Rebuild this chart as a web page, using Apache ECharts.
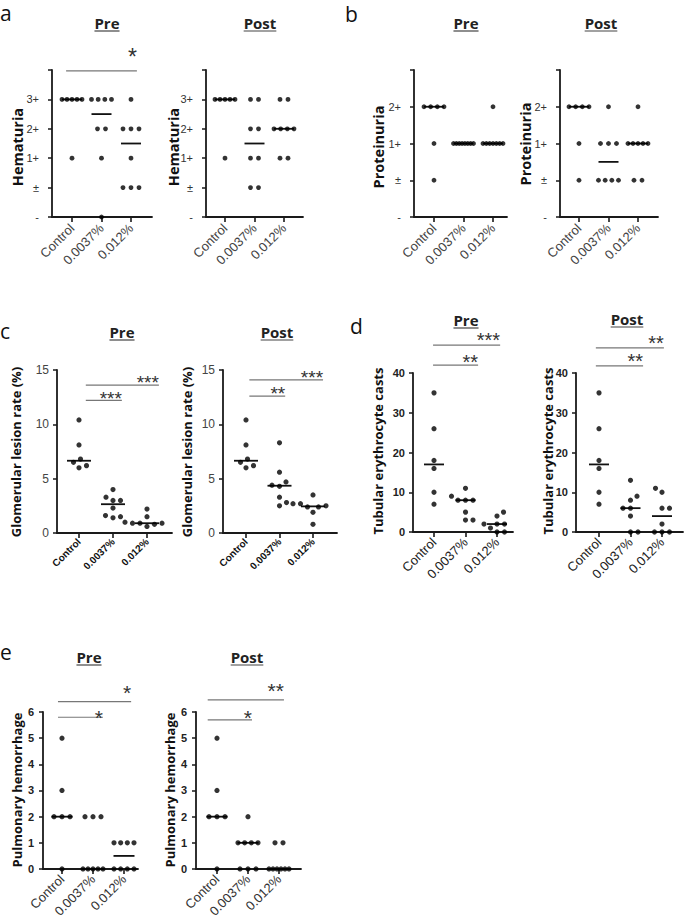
<!DOCTYPE html>
<html><head><meta charset="utf-8">
<script src="https://cdn.jsdelivr.net/npm/echarts@6/dist/echarts.min.js"></script>
<style>html,body{margin:0;padding:0;background:#fff}#c{width:685px;height:920px}</style>
</head><body><div id="c"></div>
<script>
// ---------------- DATA ----------------
const groups = ['Control', '0.0037%', '0.012%'];
const hemaLevels = ['-', '±', '1+', '2+', '3+'];
const protLevels = ['-', '±', '1+', '2+'];
const hemaTicks = ['-', '±', '1+', '2+', '3+', ''];
const protTicks = ['-', '±', '1+', '2+', ''];

const hematuriaPre = [
  ['3+','3+','3+','3+','3+','1+'],
  ['3+','3+','3+','3+','2+','2+','1+','-'],
  ['3+','2+','2+','2+','1+','±','±','±']
];
const hematuriaPost = [
  ['3+','3+','3+','3+','3+','1+'],
  ['3+','3+','2+','2+','1+','1+','±','±'],
  ['3+','3+','2+','2+','2+','2+','1+','1+']
];
const proteinuriaPre = [
  ['2+','2+','2+','2+','1+','±'],
  ['1+','1+','1+','1+','1+','1+','1+','1+'],
  ['2+','1+','1+','1+','1+','1+','1+','1+']
];
const proteinuriaPost = [
  ['2+','2+','2+','2+','1+','±'],
  ['2+','1+','1+','1+','±','±','±','±'],
  ['2+','1+','1+','1+','1+','1+','±','±']
];
const glomerularPre = [
  [10.4, 8.1, 6.8, 6.5, 6.0, 6.2],
  [4.0, 3.3, 3.0, 3.0, 2.3, 1.4, 1.6, 1.5],
  [2.2, 1.5, 1.0, 0.9, 0.9, 0.8, 0.9, 0.6]
];
const glomerularPost = [
  [10.4, 8.1, 6.8, 6.5, 6.0, 6.2],
  [8.3, 5.6, 4.7, 4.4, 4.3, 3.3, 2.8, 2.5],
  [3.5, 2.7, 2.7, 2.5, 2.4, 2.4, 1.9, 0.8]
];
const tubularPre = [
  [35, 26, 18, 16, 10, 7],
  [11, 9, 8, 8, 8, 5, 3, 3],
  [5, 4, 2, 2, 2, 1, 0, 0]
];
const tubularPost = [
  [35, 26, 18, 16, 10, 7],
  [13, 9, 8, 6, 6, 4, 0, 0],
  [11, 10, 6, 6, 2, 0, 0, 0]
];
const hemorrhagePre = [
  [5, 3, 2, 2, 2, 0],
  [2, 2, 2, 0, 0, 0, 0, 0],
  [1, 1, 1, 1, 0, 0, 0, 0]
];
const hemorrhagePost = [
  [5, 3, 2, 2, 2, 0],
  [2, 1, 1, 1, 1, 0, 0, 0],
  [1, 1, 0, 0, 0, 0, 0, 0]
];
// significance: [label, from group, to group, bar level]
const sigHemaPre = [['*', -0.2, 2.2, 4.97]];
const sigGlomPre = [['***', 0.2, 1.26, 12.2], ['***', 0.2, 2.35, 13.6]];
const sigGlomPost = [['**', 0.1, 1.17, 12.6], ['***', 0.1, 2.3, 14.1]];
const sigTubPre = [['**', -0.03, 1.4, 42], ['***', -0.03, 2.1, 47]];
const sigTubPost = [['**', -0.1, 1.4, 41.8], ['**', -0.1, 2.06, 46.3]];
const sigHemoPre = [['*', -0.13, 1.32, 5.8], ['*', -0.13, 2.23, 6.4]];
const sigHemoPost = [['*', -0.3, 1.13, 5.7], ['**', -0.3, 2.16, 6.46]];

// ---------------- LAYOUT / STYLE ----------------
const TICK_FONT = '"Liberation Sans", Arial, sans-serif';
const HEAD_FONT = '"Open Sans", "Noto Sans", sans-serif';
const styles = {
  ab: { y: {fontSize: 11, color: '#333', margin: 13}, x: {fontSize: 13, color: '#444', margin: 9} },
  c:  { y: {fontSize: 12, color: '#444', margin: 8}, x: {fontSize: 10, color: '#111', fontWeight: 'bold', margin: 7} },
  d:  { y: {fontSize: 11, color: '#222', fontWeight: 'bold', margin: 8}, x: {fontSize: 13, color: '#222', margin: 8} },
  e:  { y: {fontSize: 11, color: '#222', fontWeight: 'bold', margin: 9}, x: {fontSize: 13, color: '#333', margin: 8} }
};

const panels = [
  {data: hematuriaPre, levels: hemaLevels, yTicks: hemaTicks, yMax: 5, yInt: 1, sig: sigHemaPre,
   L: {x0: 52, x1: 152, t0: 72, t2: 131, top: 70, bot: 217}, dot: 4.8, st: 'ab', medHW: 10, nameFs: 14.5,
   title: 'Pre', tx: 107, ty: 23, yName: 'Hematuria', nx: 17, ny: 147, starFont: 23, starGap: [19]},
  {data: hematuriaPost, levels: hemaLevels, yTicks: hemaTicks, yMax: 5, yInt: 1, sig: [],
   L: {x0: 206, x1: 303, t0: 225, t2: 284, top: 70, bot: 217}, dot: 4.8, st: 'ab', medHW: 10, nameFs: 14.5,
   title: 'Post', tx: 260, ty: 23, yName: 'Hematuria', nx: 173, ny: 147},
  {data: proteinuriaPre, levels: protLevels, yTicks: protTicks, yMax: 4, yInt: 1, sig: [],
   L: {x0: 414, x1: 507, t0: 434, t2: 493, top: 70, bot: 217}, dot: 4.8, st: 'ab', medHW: 10, nameFs: 14.5,
   title: 'Pre', tx: 466, ty: 23, yName: 'Proteinuria', nx: 378, ny: 147},
  {data: proteinuriaPost, levels: protLevels, yTicks: protTicks, yMax: 4, yInt: 1, sig: [],
   L: {x0: 560, x1: 658, t0: 579, t2: 638, top: 70, bot: 217}, dot: 4.8, st: 'ab', medHW: 10, nameFs: 14.5,
   title: 'Post', tx: 601, ty: 23, yName: 'Proteinuria', nx: 525, ny: 144},
  {data: glomerularPre, yMax: 15, yInt: 5, sig: sigGlomPre, swarm: 7.5,
   L: {x0: 57, x1: 172, t0: 79, t2: 147, top: 370, bot: 533}, dot: 5.2, st: 'c', medHW: 12, nameFs: 13,
   title: 'Pre', tx: 122, ty: 332, yName: 'Glomerular lesion rate (%)', nx: 16, ny: 452, starFont: 19, starGap: [6, 7]},
  {data: glomerularPost, yMax: 15, yInt: 5, sig: sigGlomPost, swarm: 7.5,
   L: {x0: 223, x1: 337, t0: 246, t2: 313, top: 370, bot: 533}, dot: 5.2, st: 'c', medHW: 12, nameFs: 13,
   title: 'Post', tx: 277, ty: 332, yName: 'Glomerular lesion rate (%)', nx: 187, ny: 452, starFont: 19, starGap: [7, 7]},
  {data: tubularPre, yMax: 40, yInt: 10, sig: sigTubPre, swarm: 7.5,
   L: {x0: 413, x1: 513, t0: 434, t2: 497, top: 373, bot: 532}, dot: 5.2, st: 'd', medHW: 10, nameFs: 13,
   title: 'Pre', tx: 466, ty: 320, yName: 'Tubular erythrocyte casts', nx: 378, ny: 451, starFont: 20, starGap: [8, 10]},
  {data: tubularPost, yMax: 40, yInt: 10, sig: sigTubPost, swarm: 7.5,
   L: {x0: 576, x1: 683, t0: 599, t2: 662, top: 373, bot: 532}, dot: 5.2, st: 'd', medHW: 10, nameFs: 13,
   title: 'Post', tx: 627, ty: 319, yName: 'Tubular erythrocyte casts', nx: 548, ny: 451, starFont: 20, starGap: [9, 10]},
  {data: hemorrhagePre, yMax: 6, yInt: 1, sig: sigHemoPre, rows: true,
   L: {x0: 43, x1: 138, t0: 62, t2: 124, top: 712, bot: 870}, dot: 5.2, st: 'e', medHW: 10.5, nameFs: 13,
   title: 'Pre', tx: 89, ty: 657, yName: 'Pulmonary hemorrhage', nx: 17, ny: 790, starFont: 21, starGap: [5, 14]},
  {data: hemorrhagePost, yMax: 6, yInt: 1, sig: sigHemoPost, rows: true,
   L: {x0: 196, x1: 301, t0: 217, t2: 279, top: 712, bot: 870}, dot: 5.2, st: 'e', medHW: 10.5, nameFs: 13,
   title: 'Post', tx: 247, ty: 657, yName: 'Pulmonary hemorrhage', nx: 170, ny: 790, starFont: 21, starGap: [7, 14]}
];
const letters = [['a', 0, 13], ['b', 345, 13.5], ['c', 0, 330.5], ['d', 350, 326], ['e', 0, 652]];

// ---------------- HELPERS ----------------
function median(a) {
  const s = a.slice().sort((x, y) => x - y), n = s.length;
  return n % 2 ? s[(n - 1) / 2] : (s[n / 2 - 1] + s[n / 2]) / 2;
}
function rowOffsets(vals, maxSpan, sp) {
  const off = new Array(vals.length).fill(0), byVal = {};
  vals.forEach((v, i) => { (byVal[v] = byVal[v] || []).push(i); });
  Object.values(byVal).forEach(ids => {
    const n = ids.length; if (n < 2) return;
    const span = Math.min((n - 1) * sp, maxSpan);
    ids.forEach((id, k) => off[id] = -span / 2 + k * span / (n - 1));
  });
  return off;
}
function swarmOffsets(vals, pxPerUnit, D) {
  const order = vals.map((v, i) => i).sort((a, b) => vals[a] - vals[b]);
  const placed = [], off = new Array(vals.length).fill(0); let side = 1;
  for (const i of order) {
    const y = vals[i] * pxPerUnit; let best = null;
    for (let k = 0; k < 300 && best === null; k++) {
      const d = k * 0.5, cands = k === 0 ? [0] : [side * d, -side * d];
      for (const x of cands) {
        if (placed.every(p => Math.hypot(p.x - x, p.y - y) >= D - 1e-6)) { best = x; break; }
      }
    }
    if (best !== 0) side = -side;
    placed.push({x: best, y}); off[i] = best;
  }
  return off;
}
const mctx = document.createElement('canvas').getContext('2d');
function textW(t, font) { mctx.font = font; return mctx.measureText(t).width; }

// ---------------- BUILD ----------------
const grid = [], xAxis = [], yAxis = [], series = [], graphic = [];
panels.forEach((p, i) => {
  const L = p.L, unit = (L.t2 - L.t0) / 2, st = styles[p.st];
  const pxPerUnit = (L.bot - L.top) / p.yMax;
  grid.push({left: L.x0, top: L.top, width: L.x1 - L.x0, height: L.bot - L.top});
  xAxis.push({
    type: 'value', gridIndex: i, min: -(L.t0 - L.x0) / unit, max: 2 + (L.x1 - L.t2) / unit,
    splitLine: {show: false},
    axisLine: {show: true, onZero: false, lineStyle: {color: '#1a1a1a', width: 1.8}},
    axisTick: {show: true, customValues: [0, 1, 2], length: 5, lineStyle: {color: '#1a1a1a', width: 1.6}},
    axisLabel: Object.assign({customValues: [0, 1, 2], rotate: 45, fontFamily: TICK_FONT,
      formatter: v => groups[Math.round(v)]}, st.x)
  });
  yAxis.push({
    type: 'value', gridIndex: i, min: 0, max: p.yMax, interval: p.yInt,
    splitLine: {show: false},
    axisLine: {show: true, onZero: false, lineStyle: {color: '#1a1a1a', width: 1.8}},
    axisTick: {show: true, length: 4, lineStyle: {color: '#1a1a1a', width: 1.5}},
    axisLabel: Object.assign({fontFamily: TICK_FONT, showMaxLabel: true,
      formatter: p.yTicks ? (v => p.yTicks[Math.round(v)]) : (v => String(v))}, st.y)
  });
  const pts = [], meds = [];
  p.data.forEach((arr, g) => {
    const vals = p.levels ? arr.map(s => p.levels.indexOf(s)) : arr;
    const offs = (p.levels || p.rows) ? rowOffsets(vals, 20, 8) : swarmOffsets(vals, pxPerUnit, p.swarm);
    vals.forEach((v, k) => pts.push({value: [g, v], symbolOffset: [offs[k], 0]}));
    meds.push([g, median(vals)]);
  });
  series.push({type: 'scatter', xAxisIndex: i, yAxisIndex: i, data: pts, symbol: 'circle',
    symbolSize: p.dot, itemStyle: {color: '#000'}, silent: true, clip: false, z: 4, animation: false});
  const hw = p.medHW;
  series.push({type: 'custom', xAxisIndex: i, yAxisIndex: i, data: meds, silent: true, clip: false, z: 3, animation: false,
    renderItem: (params, api) => {
      const c = api.coord([api.value(0), api.value(1)]);
      return {type: 'line', shape: {x1: c[0] - hw, y1: c[1], x2: c[0] + hw, y2: c[1]},
        style: {stroke: '#111', lineWidth: 1.8}};
    }});
  if (p.sig.length) {
    series.push({type: 'custom', xAxisIndex: i, yAxisIndex: i, silent: true, clip: false, z: 2, animation: false,
      data: p.sig.map((s, k) => [s[1], s[2], s[3], k]),
      encode: {x: [0, 1], y: 2},
      renderItem: (params, api) => {
        const k = api.value(3);
        const a = api.coord([api.value(0), api.value(2)]), b = api.coord([api.value(1), api.value(2)]);
        const fs = p.starFont, gap = p.starGap[k];
        return {type: 'group', children: [
          {type: 'line', shape: {x1: a[0], y1: a[1], x2: b[0], y2: b[1]}, style: {stroke: '#777', lineWidth: 1.2}},
          {type: 'text', style: {text: p.sig[k][0], x: b[0], y: a[1] - gap + 0.23 * fs, align: 'right',
            verticalAlign: 'middle', font: fs + 'px ' + TICK_FONT, fill: '#333'}}
        ]};
      }});
  }
  // title with underline
  const tFont = 'bold 15px ' + HEAD_FONT;
  const tw = textW(p.title, tFont);
  graphic.push({type: 'text', x: p.tx, y: p.ty, silent: true,
    style: {text: p.title, font: tFont, fill: '#222', align: 'center', verticalAlign: 'middle'}});
  graphic.push({type: 'line', silent: true, shape: {x1: p.tx - tw / 2, y1: p.ty + 8, x2: p.tx + tw / 2, y2: p.ty + 8},
    style: {stroke: '#444', lineWidth: 1.2}});
  // y axis name
  graphic.push({type: 'text', x: p.nx, y: p.ny, rotation: Math.PI / 2, silent: true,
    style: {text: p.yName, font: 'bold ' + p.nameFs + 'px ' + HEAD_FONT, fill: '#111', align: 'center', verticalAlign: 'middle'}});
});
letters.forEach(l => graphic.push({type: 'text', x: l[1], y: l[2], silent: true,
  style: {text: l[0], font: '21px ' + HEAD_FONT, fill: '#111', align: 'left', verticalAlign: 'middle'}}));

const chart = echarts.init(document.getElementById('c'), null, {renderer: 'svg', width: 685, height: 920});
chart.setOption({animation: false, backgroundColor: '#fff', grid, xAxis, yAxis, series, graphic});
</script></body></html>
